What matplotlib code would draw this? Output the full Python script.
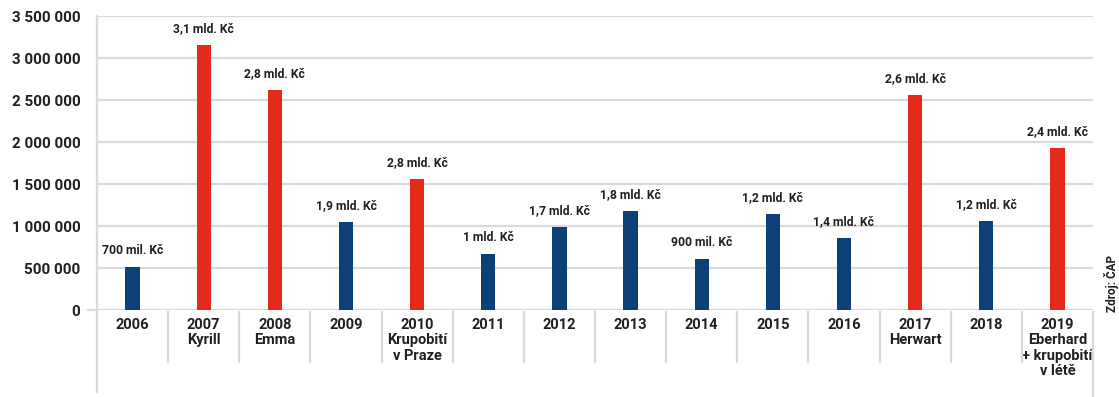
import matplotlib.pyplot as plt
import matplotlib.transforms as mtransforms
import numpy as np

# Insured damages per year (bars), highlighted years with named storms / hail
years = ["2006", "2007\nKyrill", "2008\nEmma", "2009", "2010\nKrupobití\nv Praze", "2011",
         "2012", "2013", "2014", "2015", "2016", "2017\nHerwart", "2018",
         "2019\nEberhard\n+ krupobití\nv létě"]
damages = [515000, 3155000, 2620000, 1045000, 1560000, 670000, 990000,
           1180000, 605000, 1145000, 860000, 2565000, 1060000, 1925000]
highlight = [False, True, True, False, True, False, False, False, False,
             False, False, True, False, True]
bar_labels = ["700 mil. Kč", "3,1 mld. Kč", "2,8 mld. Kč", "1,9 mld. Kč", "2,8 mld. Kč",
              "1 mld. Kč", "1,7 mld. Kč", "1,8 mld. Kč", "900 mil. Kč", "1,2 mld. Kč",
              "1,4 mld. Kč", "2,6 mld. Kč", "1,2 mld. Kč", "2,4 mld. Kč"]
yticks = np.arange(0, 3500001, 500000)

BLUE = "#0b4177"
RED = "#e42a19"
GRID = "#dadada"
TEXT = "#1f1f24"

plt.rcParams["font.family"] = ["Roboto", "DejaVu Sans"]

fig = plt.figure(figsize=(11.19, 3.97), dpi=100)
ax = fig.add_axes([97 / 1119, 1 - 310 / 397, (1093 - 97) / 1119, 294 / 397])

x = np.arange(len(years))
colors = [RED if h else BLUE for h in highlight]
ax.bar(x, damages, width=0.2, color=colors, zorder=3)
for xi, val, lab in zip(x, damages, bar_labels):
    ax.annotate(lab, (xi, val), xytext=(0, 7), textcoords="offset points",
                ha="center", va="bottom", fontsize=8.7, fontweight="bold", color=TEXT)

ax.set_xlim(-0.5, len(years) - 0.5)
ax.set_ylim(0, 3500000)
ax.set_yticks(yticks, [f"{v:,}".replace(",", " ") for v in yticks])
ax.set_xticks(x, years)
ax.tick_params(axis="y", length=0, pad=12, labelsize=11, labelcolor=TEXT)
ax.tick_params(axis="x", length=0, pad=6, labelsize=10.5, labelcolor=TEXT)
for lab in ax.get_xticklabels() + ax.get_yticklabels():
    lab.set_fontweight("bold")
for lab in ax.get_xticklabels():
    lab.set_linespacing(1.1)
    lab.set_verticalalignment("top")

ax.grid(axis="y", color=GRID, linewidth=1.6, zorder=0)
for side in ["top", "right", "bottom", "left"]:
    ax.spines[side].set_visible(False)

# table-like separators below the axis
trans = mtransforms.blended_transform_factory(ax.transData, ax.transAxes)
y_bottom = -(362 - 310) / 294
for xs in np.arange(0.5, len(years) - 1, 1.0):
    ax.plot([xs, xs], [-2 / 294, y_bottom], transform=trans, color=GRID,
            linewidth=1.6, clip_on=False)
ax.plot([len(years) - 0.5] * 2, [-2 / 294, -(396 - 310) / 294], transform=trans,
        color=GRID, linewidth=1.6, clip_on=False)
ax.plot([-0.5, -0.5], [1.0, -(392 - 310) / 294], transform=trans, color=GRID,
        linewidth=1.6, clip_on=False)
ax.plot([-0.62, -0.5], [0, 0], transform=trans, color=GRID, linewidth=1.6, clip_on=False)

fig.text(1104 / 1119, 1 - 312 / 397, "Zdroj: ČAP", rotation=90, ha="left", va="bottom",
         fontsize=8.5, fontweight="bold", color=TEXT)

fig.savefig("out.png", dpi=100)
